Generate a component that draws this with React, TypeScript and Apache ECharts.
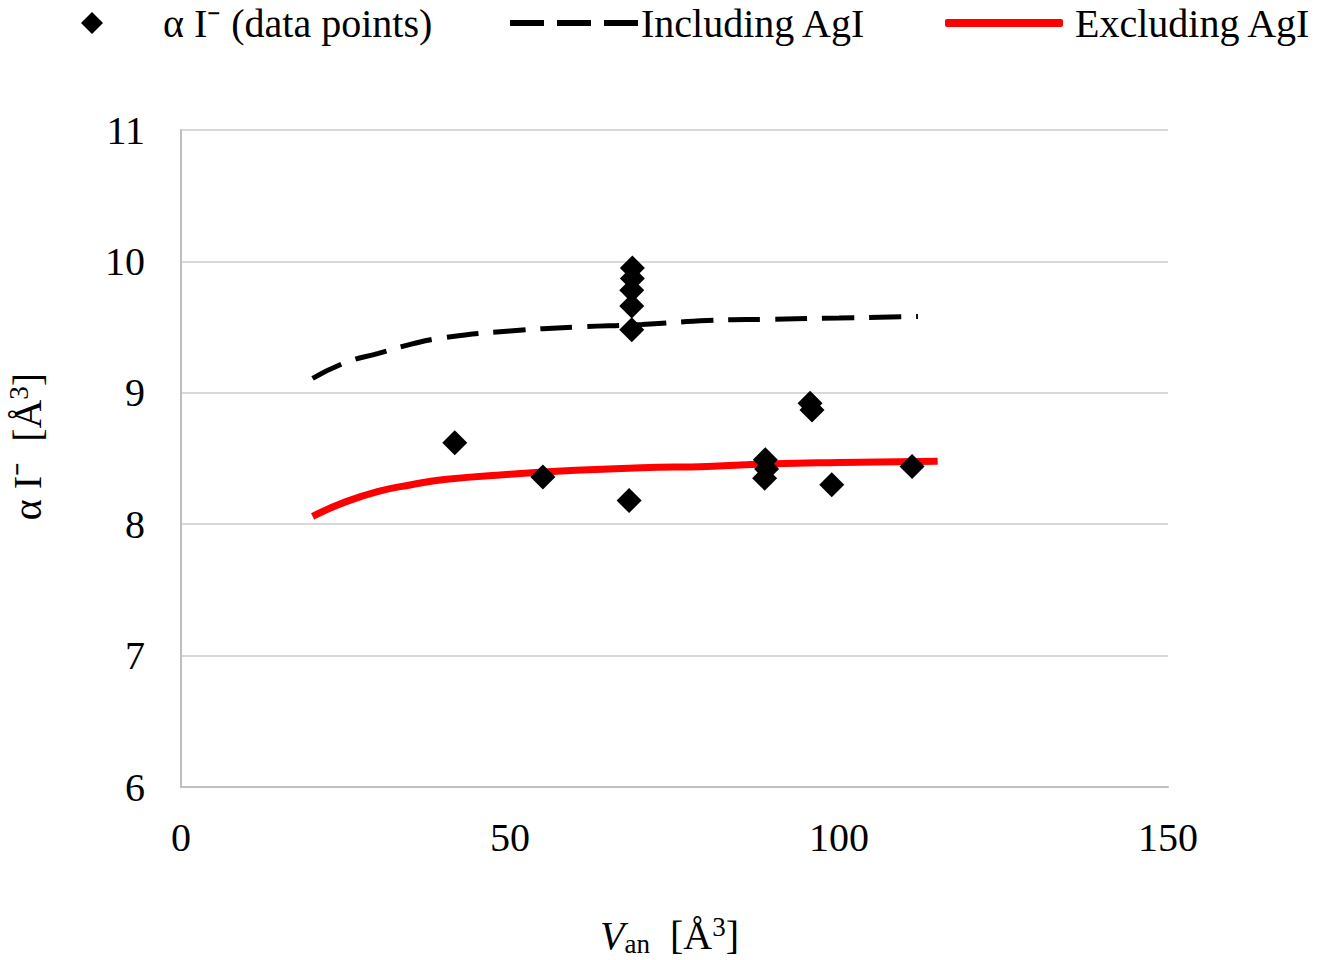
import React, { useEffect, useRef } from "react";
import * as echarts from "echarts";

const pointX = [41.6, 55.0, 68.1, 68.5, 68.5, 68.5, 68.6, 68.6, 88.8, 89.0, 88.7, 95.6, 95.9, 98.9, 111.1];
const pointY = [8.62, 8.36, 8.18, 9.48, 9.66, 9.78, 9.87, 9.95, 8.49, 8.42, 8.35, 8.92, 8.87, 8.30, 8.44];

const inclX = [20, 25, 30, 35, 40, 50, 60, 70, 80, 90, 100, 112];
const inclY = [9.11, 9.23, 9.3, 9.37, 9.42, 9.47, 9.5, 9.52, 9.55, 9.56, 9.57, 9.58];

const exclX = [20, 25, 30, 35, 40, 50, 60, 70, 80, 90, 100, 115];
const exclY = [8.06, 8.17, 8.25, 8.3, 8.34, 8.38, 8.41, 8.43, 8.44, 8.46, 8.47, 8.48];

const xTicks = { min: 0, max: 150, interval: 50 };
const yTicks = { min: 6, max: 11, interval: 1 };

const FONT = "'Liberation Serif', 'Times New Roman', serif";

export default function App() {
  const ref = useRef<HTMLDivElement>(null);
  useEffect(() => {
    if (!ref.current) return;
    const chart = echarts.init(ref.current, null, { renderer: "svg" });
    const zip = (xs: number[], ys: number[]) => xs.map((x, i) => [x, ys[i]]);
    const legendText = { fontFamily: FONT, fontSize: 40, color: "#000" };
    const axisText = { fontFamily: FONT, fontSize: 40, color: "#000" };
    chart.setOption({
      animation: false,
      textStyle: { fontFamily: FONT },
      legend: [
        {
          data: [{ name: "α I⁻ (data points)", icon: "diamond" }],
          left: 76,
          top: -2,
          itemWidth: 22,
          itemHeight: 22,
          textStyle: { ...legendText, padding: [0, 0, 0, 55] },
        },
        {
          data: [
            {
              name: "Including AgI",
              icon: "path://M0,0h34v6h-34z M47,0h34v6h-34z M94,0h34v6h-34z",
            },
          ],
          left: 505,
          top: -2,
          itemWidth: 128,
          itemHeight: 6,
          textStyle: { ...legendText, padding: [0, 0, 0, -2] },
        },
        {
          data: [{ name: "Excluding AgI", icon: "roundRect" }],
          left: 940,
          top: -2,
          itemWidth: 118,
          itemHeight: 8,
          textStyle: { ...legendText, padding: [0, 0, 0, 7] },
        },
      ],
      grid: { left: 181, right: 150, top: 130, bottom: 173, containLabel: false, outerBoundsMode: "none" },
      xAxis: {
        type: "value",
        ...xTicks,
        axisLine: { show: true, lineStyle: { color: "#bfbfbf", width: 2 } },
        axisTick: { show: false },
        splitLine: { show: false },
        axisLabel: { ...axisText, margin: 30 },
        name: "{i|V}{sub|an}  [Å{sup|3}]",
        nameLocation: "middle",
        nameGap: 126,
        nameTextStyle: {
          ...axisText,
          padding: [0, 10, 0, 0],
          rich: {
            i: { fontFamily: FONT, fontSize: 40, fontStyle: "italic", color: "#000", lineHeight: 44 },
            sub: { fontFamily: FONT, fontSize: 27, color: "#000", lineHeight: 27, padding: [17, 0, 0, 0] },
            sup: { fontFamily: FONT, fontSize: 27, color: "#000", lineHeight: 27, padding: [0, 0, 17, 0] },
          },
        },
      },
      yAxis: {
        type: "value",
        ...yTicks,
        axisLine: { show: true, lineStyle: { color: "#bfbfbf", width: 2 } },
        axisTick: { show: false },
        splitLine: { show: true, lineStyle: { color: "#d9d9d9", width: 2 } },
        axisLabel: { ...axisText, margin: 36 },
        name: "α I⁻  [Å{sup|3}]",
        nameLocation: "middle",
        nameGap: 134,
        nameTextStyle: {
          ...axisText,
          padding: [0, 0, 0, 24],
          rich: {
            sup: { fontFamily: FONT, fontSize: 27, color: "#000", lineHeight: 27, padding: [0, 0, 17, 0] },
          },
        },
      },
      series: [
        {
          name: "Including AgI",
          type: "line",
          data: zip(inclX, inclY),
          smooth: true,
          symbol: "none",
          lineStyle: { color: "#000", width: 5, type: [32, 15] },
          itemStyle: { color: "#000" },
          z: 2,
        },
        {
          name: "Excluding AgI",
          type: "line",
          data: zip(exclX, exclY),
          smooth: true,
          symbol: "none",
          lineStyle: { color: "#ff0000", width: 7 },
          itemStyle: { color: "#ff0000" },
          z: 2,
        },
        {
          name: "α I⁻ (data points)",
          type: "scatter",
          data: zip(pointX, pointY),
          symbol: "diamond",
          symbolSize: 25,
          itemStyle: { color: "#000", opacity: 1 },
          z: 3,
        },
      ],
    });
    return () => chart.dispose();
  }, []);
  return (
    <div
      ref={ref}
      style={{ position: "fixed", left: 0, top: 0, width: 1318, height: 960, background: "#fff" }}
    />
  );
}
